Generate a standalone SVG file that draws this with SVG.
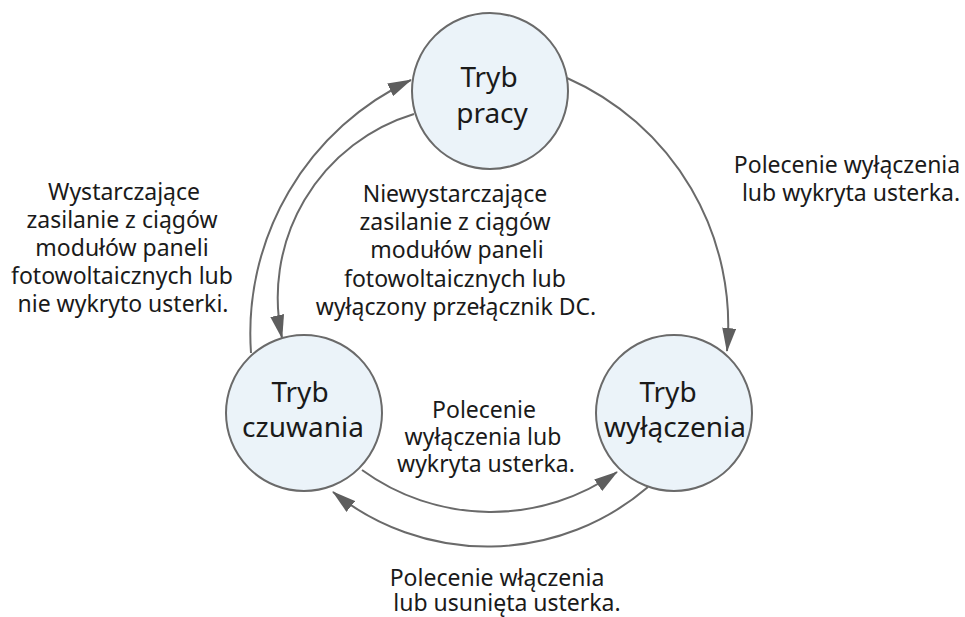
<svg xmlns="http://www.w3.org/2000/svg" width="965" height="617" viewBox="0 0 965 617">
<style>
.node{fill:#ebf3f9;stroke:#6a6a6a;stroke-width:2}
.lbl{font-family:"Noto Sans","Open Sans",sans-serif;font-size:28px;fill:#1a1a1a;text-anchor:middle}
.txt{font-family:"Noto Sans","Open Sans",sans-serif;font-size:23px;fill:#1a1a1a;text-anchor:middle}
.con{fill:none;stroke:#6a6a6a;stroke-width:2;marker-end:url(#ah)}
</style>
<defs>
<marker id="ah" markerUnits="userSpaceOnUse" viewBox="0 0 24 14" markerWidth="24" markerHeight="14" refX="23" refY="7" orient="auto">
<path d="M0,0 L24,7 L0,14 z" fill="#5e5e5e"/>
</marker>
</defs>
<rect width="965" height="617" fill="#ffffff"/>
<g id="connectors">
<path class="con" d="M567,78 A270,270 0 0 1 727,351"/>
<path class="con" d="M251,353 A280,280 0 0 1 411,80"/>
<path class="con" d="M414,114 A192,192 0 0 0 282,338"/>
<path class="con" d="M362,470 A219,219 0 0 0 617,472"/>
<path class="con" d="M648,487 A246,246 0 0 1 333,492"/>
</g>
<g id="node-praca">
<circle class="node" cx="490" cy="91" r="78"/>
<text class="lbl" x="489" y="87">Tryb</text>
<text class="lbl" x="492" y="123">pracy</text>
</g>
<g id="node-czuwanie">
<circle class="node" cx="304" cy="413" r="78"/>
<text class="lbl" x="300" y="402">Tryb</text>
<text class="lbl" x="303" y="437">czuwania</text>
</g>
<g id="node-wylaczenie">
<circle class="node" cx="674" cy="413" r="78"/>
<text class="lbl" x="668" y="402">Tryb</text>
<text class="lbl" x="675" y="437">wyłączenia</text>
</g>
<g id="labels">
<text class="txt" x="847" y="173">Polecenie wyłączenia</text>
<text class="txt" x="851" y="201">lub wykryta usterka.</text>
<text class="txt" x="124" y="200">Wystarczające</text>
<text class="txt" x="122" y="228">zasilanie z ciągów</text>
<text class="txt" x="122" y="256">modułów paneli</text>
<text class="txt" x="122" y="284">fotowoltaicznych lub</text>
<text class="txt" x="123" y="312">nie wykryto usterki.</text>
<text class="txt" x="455" y="202">Niewystarczające</text>
<text class="txt" x="455" y="230">zasilanie z ciągów</text>
<text class="txt" x="457" y="258">modułów paneli</text>
<text class="txt" x="455" y="287">fotowoltaicznych lub</text>
<text class="txt" x="456" y="315">wyłączony przełącznik DC.</text>
<text class="txt" x="484" y="418">Polecenie</text>
<text class="txt" x="483" y="445">wyłączenia lub</text>
<text class="txt" x="486" y="472">wykryta usterka.</text>
<text class="txt" x="497" y="586">Polecenie włączenia</text>
<text class="txt" x="507" y="611">lub usunięta usterka.</text>
</g>
</svg>
